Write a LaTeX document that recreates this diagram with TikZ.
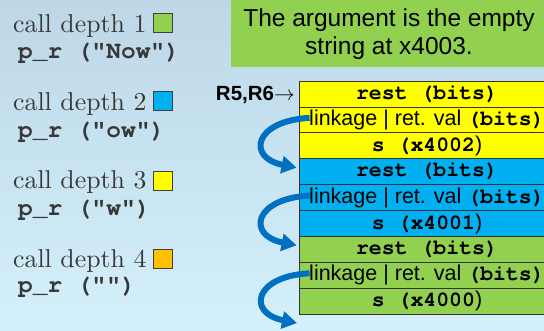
\documentclass[tikz,border=0pt]{standalone}
\usepackage{fontspec}
\usetikzlibrary{arrows.meta}
\newfontfamily\arial{Liberation Sans}
\newfontfamily\cour{TeX Gyre Cursor}
\newfontfamily\lmten{lmroman10-regular}[Extension=.otf]
\definecolor{bgtop}{HTML}{BDD7E7}
\definecolor{bgbot}{HTML}{D4F0FB}
\definecolor{notegreen}{HTML}{92D050}
\definecolor{fyellow}{HTML}{FFFF00}
\definecolor{fblue}{HTML}{00B0F0}
\definecolor{fgreen}{HTML}{92D050}
\definecolor{forange}{HTML}{FFC000}
\definecolor{linkblue}{HTML}{0070C0}
\definecolor{textgrey}{HTML}{383838}
\newcommand{\cb}[1]{{\cour\bfseries #1}}
\begin{document}
\begin{tikzpicture}[x=1pt,y=-1pt,
  frame/.style={draw=black!80, line width=0.8pt, minimum width=256pt,
    minimum height=25.9pt, inner sep=0pt,
    font=\arial\fontsize{21.5}{24}\selectfont, text=black},
  link/.style={-{Triangle[length=15pt,width=17pt]}, draw=linkblue, line width=6pt},
  swatch/.style={draw=black!75, line width=0.8pt, minimum size=19pt, inner sep=0pt},
  depth/.style={anchor=base west, inner sep=0pt,
    font=\lmten\fontsize{25.8}{30}\selectfont, text=textgrey},
  call/.style={anchor=base west, inner sep=0pt,
    font=\cour\bfseries\fontsize{24.5}{28}\selectfont, text=textgrey}]
\useasboundingbox (0,0) rectangle (544,330);
\clip (0,0) rectangle (544,330);
\shade[top color=bgtop, bottom color=bgbot] (0,0) rectangle (544,330);

% note box
\fill[notegreen] (231,-3) rectangle (547,66.7);
\node[align=center, inner sep=0pt, font=\arial\fontsize{24.5}{28}\selectfont]
  (note) at (389,34.5) {The argument is the empty\\string at x4003.};

% call depths
\node[depth] (d1) at (13,32) {call depth 1};
\node[swatch, fill=fgreen] (s1) at (163,23) {};
\node[call] (c1) at (18,58) {p\_r ("Now")};
\node[depth] (d2) at (13,110) {call depth 2};
\node[swatch, fill=fblue] (s2) at (163,101) {};
\node[call] (c2) at (18,137) {p\_r ("ow")};
\node[depth] (d3) at (13,188) {call depth 3};
\node[swatch, fill=fyellow] (s3) at (163,181) {};
\node[call] (c3) at (18,215) {p\_r ("w")};
\node[depth] (d4) at (13,267) {call depth 4};
\node[swatch, fill=forange] (s4) at (163,258.5) {};
\node[call] (c4) at (18,292) {p\_r ("")};

% stack frames
\node[frame, fill=fyellow] (r1) at (427,93.95) {\cb{rest (bits)}};
\node[frame, fill=fyellow] (l1) at (427,119.85) {linkage | ret. val \cb{(bits)}};
\node[frame, fill=fyellow] (a1) at (427,145.75) {\cb{s (x4002})};
\node[frame, fill=fblue] (r2) at (427,171.65) {\cb{rest (bits)}};
\node[frame, fill=fblue] (l2) at (427,197.55) {linkage | ret. val \cb{(bits)}};
\node[frame, fill=fblue] (a2) at (427,223.45) {\cb{s (x4001})};
\node[frame, fill=fgreen] (r3) at (427,249.35) {\cb{rest (bits)}};
\node[frame, fill=fgreen] (l3) at (427,275.25) {linkage | ret. val \cb{(bits)}};
\node[frame, fill=fgreen] (a3) at (427,301.15) {\cb{s (x4000})};
\coordinate (r4) at (299,327.05);

\node[anchor=base east, inner sep=0pt, font=\arial\bfseries\fontsize{20.5}{24}\selectfont]
  (reg) at (295,100.5) {R5,R6$\rightarrow$};

% linkage pointers
\draw[link] ([xshift=11pt,yshift=2pt]l1.west) .. controls +(-56,3) and +(-50,-10) .. ([xshift=-2pt,yshift=4pt]r2.west);
\draw[link] ([xshift=11pt,yshift=2pt]l2.west) .. controls +(-56,3) and +(-50,-10) .. ([xshift=-2pt,yshift=4pt]r3.west);
\draw[link] ([xshift=11pt,yshift=2pt]l3.west) .. controls +(-56,3) and +(-50,-10) .. ([xshift=-2pt,yshift=4pt]r4);
\end{tikzpicture}
\end{document}
